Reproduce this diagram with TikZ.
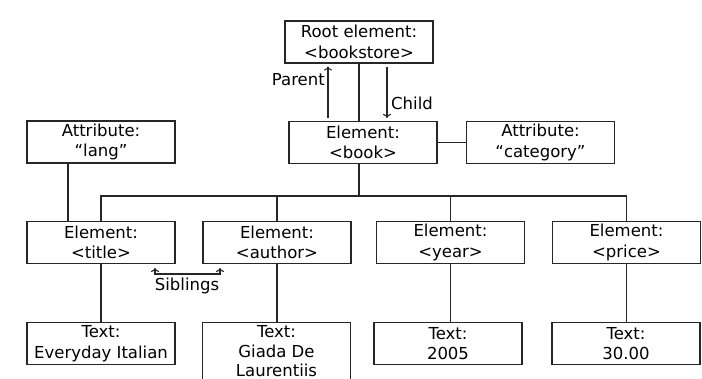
\documentclass[tikz,border=0pt]{standalone}
\usepackage{fontspec}
\setmainfont{DejaVu Sans}
\usetikzlibrary{arrows.meta}

\begin{document}
\begin{tikzpicture}[
    x=1pt, y=-1pt,
    % Estilo para las cajas del arbol
    caja/.style={
        draw=black!85,
        fill=white,
        line width=1.1pt,
        minimum width=148pt,
        minimum height=42pt,
        inner sep=1pt,
        align=center,
        font=\fontsize{16.5}{20.5}\selectfont
    },
    % Estilo para las lineas del arbol
    linea/.style={
        draw=black!85,
        line width=1.1pt
    },
    % Estilo para las flechas de relacion (padre / hijo)
    flecha/.style={
        linea,
        shorten <=3pt,
        shorten >=3pt,
        -{To[length=4pt,width=8pt]}
    },
    % Estilo para la flecha doble de hermanos
    flechaDoble/.style={
        linea,
        {To[length=4pt,width=8pt]}-{To[length=4pt,width=8pt]}
    },
    % Estilo para los textos sueltos
    etiqueta/.style={
        inner sep=0pt,
        font=\fontsize{16.5}{20.5}\selectfont
    }
]
    \useasboundingbox (0,0) rectangle (702,379);

    % --- RAIZ Y ELEMENTO <book> ---
    \node[caja] (root)     at (359,42)    {Root element:\\<bookstore>};
    \node[caja] (book)     at (363,142.5) {Element:\\<book>};
    \node[caja] (category) at (540.5,142.5) {Attribute:\\“category”};
    \node[caja] (lang)     at (101,142)   {Attribute:\\“lang”};

    % --- ELEMENTOS HIJOS ---
    \node[caja] (title)  at (101,242.5)   {Element:\\<title>};
    \node[caja] (author) at (277,242.5)   {Element:\\<author>};
    \node[caja] (year)   at (450.5,242.5) {Element:\\<year>};
    \node[caja] (price)  at (626.5,242.5) {Element:\\<price>};

    % --- NODOS DE TEXTO ---
    \node[caja, anchor=north] (ttitle)  at (101,322)   {Text:\\Everyday Italian};
    \node[caja, anchor=north, inner ysep=3pt, font=\fontsize{16.5}{19.5}\selectfont]
        (tauthor) at (276.5,322) {Text:\\Giada De\\Laurentiis};
    \node[caja, anchor=north] (tyear)   at (448,322)   {Text:\\2005};
    \node[caja, anchor=north] (tprice)  at (626,322)   {Text:\\30.00};

    % --- RAIZ -> <book> (padre / hijo) ---
    \draw[linea] (root) -- (root |- book.north);
    \draw[flecha] ([xshift=-31pt]root.south |- book.north) -- ([xshift=-31pt]root.south);
    \draw[flecha] ([xshift=28pt]root.south) -- ([xshift=28pt]root.south |- book.north);
    \node[etiqueta, anchor=east] (parentLbl) at (325,80)  {Parent};
    \node[etiqueta, anchor=west] (childLbl)  at (391,103) {Child};

    % --- ATRIBUTOS ---
    \draw[linea] (book) -- (category);
    \draw[linea] ([xshift=-33pt]lang.south) -- ([xshift=-33pt]title.north);

    % --- BARRA DE HIJOS ---
    \coordinate (bus) at (359,196);
    \draw[linea] (book.south -| bus) -- (bus);
    \draw[linea] (title.north) |- (bus) -| (price.north);
    \draw[linea] (author.north) -- (author.north |- bus);
    \draw[linea] (year.north) -- (year.north |- bus);

    % --- ELEMENTOS -> TEXTOS ---
    \draw[linea] (title.south)  -- (title.south |- ttitle.north);
    \draw[linea] (author.south) -- (author.south |- tauthor.north);
    \draw[linea] (year.south)   -- (year.south |- tyear.north);
    \draw[linea] (price.south)  -- (price.south |- tprice.north);

    % --- HERMANOS ---
    \coordinate (sibIzq) at (155,268);
    \coordinate (sibDer) at (220,268);
    \draw[flechaDoble] (sibIzq) -- ++(0,6) -| (sibDer);
    \node[etiqueta] (siblingsLbl) at (187,286) {Siblings};

\end{tikzpicture}
\end{document}
